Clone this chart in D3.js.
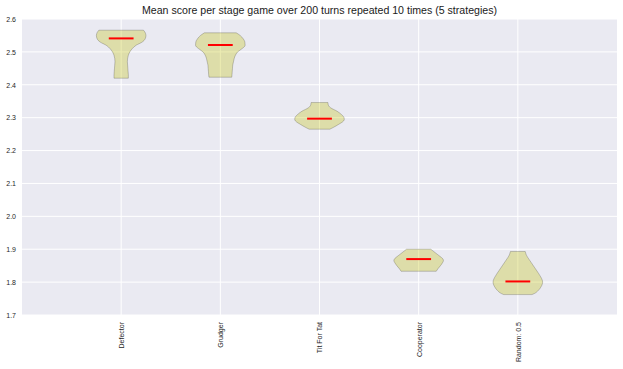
<!DOCTYPE html>
<html>
<head>
<meta charset="utf-8">
<script src="https://cdn.jsdelivr.net/npm/d3@7"></script>
<style>
  html, body { margin: 0; padding: 0; background: #fff; }
  svg { display: block; }
</style>
</head>
<body>
<svg id="chart" width="623" height="369"></svg>
<script>
// ---- data ----
const titleText = "Mean score per stage game over 200 turns repeated 10 times (5 strategies)";
const categories = ["Defector", "Grudger", "Tit For Tat", "Cooperator", "Random: 0.5"];
const means = [2.541, 2.521, 2.297, 1.870, 1.802];
const yTicks = [1.7, 1.8, 1.9, 2.0, 2.1, 2.2, 2.3, 2.4, 2.5, 2.6];

// violin profiles: [score, relative density]
const defectorDensity = [
  [2.420, 0.29], [2.430, 0.29], [2.440, 0.28], [2.450, 0.27], [2.460, 0.26],
  [2.470, 0.25], [2.480, 0.26], [2.490, 0.29], [2.500, 0.35], [2.510, 0.45],
  [2.520, 0.60], [2.530, 0.85], [2.540, 0.97], [2.550, 1.00], [2.560, 0.96], [2.566, 0.90]
];
const grudgerDensity = [
  [2.423, 0.46], [2.430, 0.47], [2.440, 0.48], [2.450, 0.49], [2.460, 0.50],
  [2.470, 0.53], [2.480, 0.56], [2.490, 0.61], [2.500, 0.70], [2.510, 0.88],
  [2.520, 1.00], [2.530, 0.99], [2.540, 0.92], [2.550, 0.80], [2.558, 0.64]
];
const titForTatDensity = [
  [2.265, 0.42], [2.270, 0.55], [2.280, 0.78], [2.290, 0.97], [2.295, 1.00],
  [2.300, 0.99], [2.310, 0.88], [2.320, 0.70], [2.330, 0.45], [2.335, 0.38],
  [2.340, 0.35], [2.346, 0.34]
];
const cooperatorDensity = [
  [1.833, 0.71], [1.840, 0.77], [1.850, 0.88], [1.860, 0.97], [1.865, 1.00],
  [1.870, 0.98], [1.880, 0.83], [1.890, 0.66], [1.900, 0.49]
];
const randomDensity = [
  [1.762, 0.57], [1.765, 0.66], [1.775, 0.83], [1.785, 0.93], [1.795, 0.99],
  [1.800, 1.00], [1.805, 0.99], [1.815, 0.93], [1.825, 0.85], [1.835, 0.76],
  [1.845, 0.67], [1.855, 0.58], [1.865, 0.49], [1.875, 0.40], [1.885, 0.33], [1.893, 0.30]
];
const densities = [defectorDensity, grudgerDensity, titForTatDensity, cooperatorDensity, randomDensity];

// ---- layout ----
const svg = d3.select("#chart");
const plot = { left: 22, right: 617, top: 19, bottom: 315 };

const x = d3.scaleLinear().domain([0, categories.length + 1]).range([plot.left, plot.right]);
const y = d3.scaleLinear().domain([1.7, 2.6]).range([plot.bottom, plot.top]);
const violinHalf = 0.25;   // half of violin width in category units
const meanHalf = 0.125;

// background
svg.append("rect")
  .attr("x", plot.left).attr("y", plot.top)
  .attr("width", plot.right - plot.left).attr("height", plot.bottom - plot.top)
  .attr("fill", "#EAEAF2");

// grid
const grid = svg.append("g");
grid.selectAll("line.h").data(yTicks).join("line")
  .attr("x1", plot.left).attr("x2", plot.right)
  .attr("y1", d => y(d)).attr("y2", d => y(d))
  .attr("stroke", "#fff").attr("stroke-width", 1);
grid.selectAll("line.v").data(categories).join("line")
  .attr("x1", (d, i) => x(i + 1)).attr("x2", (d, i) => x(i + 1))
  .attr("y1", plot.top).attr("y2", plot.bottom)
  .attr("stroke", "#fff").attr("stroke-width", 1);

// axes (labels only)
const yAxis = d3.axisLeft(y).tickValues(yTicks).tickSize(0).tickPadding(6).tickFormat(d3.format(".1f"));
const gy = svg.append("g").attr("transform", `translate(${plot.left},0)`).call(yAxis);
gy.select(".domain").remove();
gy.selectAll("text").attr("font-family", "Liberation Sans, Arial, sans-serif").attr("font-size", 7).attr("fill", "#262626");

const xAxis = d3.axisBottom(x).tickValues(categories.map((d, i) => i + 1)).tickSize(0)
  .tickFormat(d => categories[d - 1]);
const gx = svg.append("g").attr("transform", `translate(0,${plot.bottom})`).call(xAxis);
gx.select(".domain").remove();
gx.selectAll("text")
  .attr("font-family", "Liberation Sans, Arial, sans-serif").attr("font-size", 7).attr("fill", "#262626")
  .attr("transform", "rotate(-90)")
  .attr("text-anchor", "end")
  .attr("x", -7).attr("y", 0).attr("dy", "0.35em");

// violins
const pxPerUnit = x(1) - x(0);
densities.forEach((dens, i) => {
  const cx = x(i + 1);
  const area = d3.area()
    .y(d => y(d[0]))
    .x0(d => cx - d[1] * violinHalf * pxPerUnit)
    .x1(d => cx + d[1] * violinHalf * pxPerUnit)
    .curve(d3.curveMonotoneY);
  svg.append("path")
    .attr("d", area(dens))
    .attr("fill", "#bfbf00").attr("fill-opacity", 0.3)
    .attr("stroke", "#000").attr("stroke-opacity", 0.2).attr("stroke-width", 1);
});

// mean lines
svg.append("g").selectAll("line").data(means).join("line")
  .attr("x1", (d, i) => x(i + 1) - meanHalf * pxPerUnit)
  .attr("x2", (d, i) => x(i + 1) + meanHalf * pxPerUnit)
  .attr("y1", d => y(d)).attr("y2", d => y(d))
  .attr("stroke", "#ff0000").attr("stroke-width", 2);

// title
svg.append("text")
  .attr("x", (plot.left + plot.right) / 2).attr("y", 14)
  .attr("text-anchor", "middle")
  .attr("font-family", "Liberation Sans, Arial, sans-serif").attr("font-size", 10.6).attr("fill", "#1a1a1a")
  .text(titleText);
</script>
</body>
</html>
